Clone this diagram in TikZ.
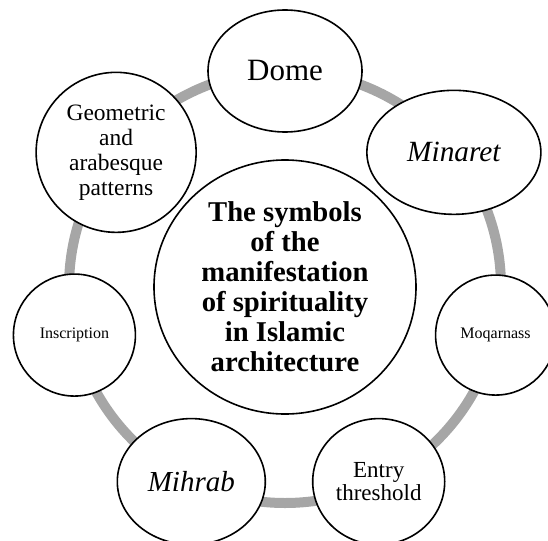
\documentclass[tikz,border=0pt]{standalone}
\usepackage{fontspec}
\setmainfont{Liberation Serif}
\usetikzlibrary{backgrounds}
\usetikzlibrary{shapes.geometric}
\usetikzlibrary{calc}
\definecolor{ringgray}{RGB}{166,166,166}

\begin{document}
\begin{tikzpicture}[
            x = 0.75pt, y = 0.75pt, % one unit = one pixel
            line width = 1.2pt % outline of the circles
        ]

        \tikzstyle{item}=[
            ellipse,
            draw = black,
            fill = white,
            inner sep = 0pt,
            align = center
        ]
        \tikzstyle{ring}=[
            draw = ringgray,
            line width = 7.5pt
        ]

        \useasboundingbox (0,0) rectangle (548,540);

	% center
        \coordinate (O) at (285,253);
        \node[item, minimum width=196.5pt, minimum height=190.5pt,
              font=\bfseries\fontsize{21.5}{22.5}\selectfont] (C) at (O)
              {The symbols\\of the\\manifestation\\of spirituality\\in Islamic\\architecture};

	% items round the ring
        \node[item, minimum width=115.5pt, minimum height=91.5pt,
              font=\fontsize{23.25}{24}\selectfont] (Dome) at ($(O)+(90:162pt)$) {Dome};
        \node[item, minimum width=130.5pt, minimum height=93pt,
              font=\itshape\fontsize{22}{23}\selectfont] (Min) at ($(O)+(38.57:162pt)$) {Minaret};
        \node[item, minimum width=90pt, minimum height=90pt,
              font=\fontsize{12}{13}\selectfont] (Moq) at ($(O)+(-12.86:162pt)$) {Moqarnass};
        \node[item, minimum width=99pt, minimum height=94.5pt,
              font=\fontsize{17.25}{17.25}\selectfont] (Ent) at ($(O)+(-64.29:162pt)$) {Entry\\threshold};
        \node[item, minimum width=111pt, minimum height=94.5pt,
              font=\itshape\fontsize{21.75}{22}\selectfont] (Mih) at ($(O)+(-115.71:162pt)$) {Mihrab};
        \node[item, minimum width=91.5pt, minimum height=91.5pt,
              font=\fontsize{12}{13}\selectfont] (Ins) at ($(O)+(-167.14:162pt)$) {Inscription};
        \node[item, minimum width=120pt, minimum height=120pt,
              font=\fontsize{17.6}{18.75}\selectfont] (Geo) at ($(O)+(141.43:162pt)$)
              {Geometric\\and\\arabesque\\patterns};

          \begin{scope}[on background layer]
          \draw[ring] (O) circle (162pt);
          \end{scope}

  \end{tikzpicture}
\end{document}
